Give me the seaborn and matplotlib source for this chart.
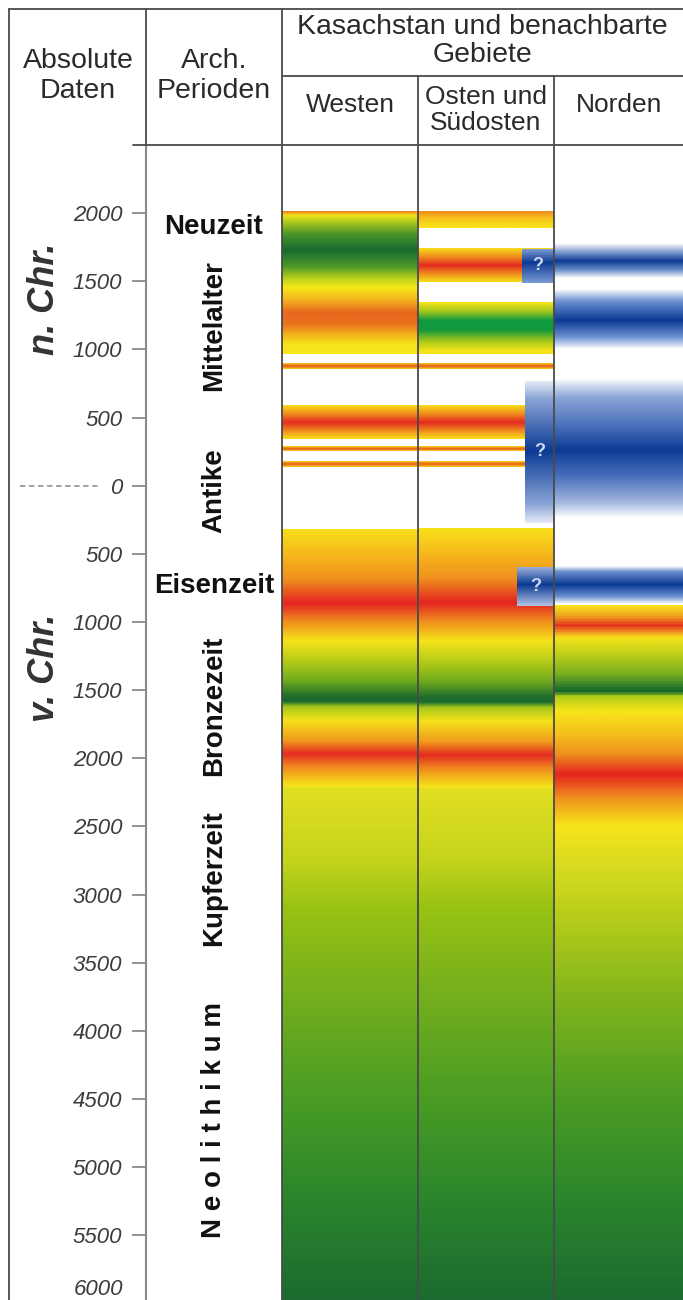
import numpy as np
import matplotlib
matplotlib.use("Agg")
import matplotlib.pyplot as plt
from matplotlib.colors import LinearSegmentedColormap
import seaborn as sns

# colour stops (year, colour) for each band, top to bottom; negative = v. Chr.
westen_bands = [
    [(2015, "#ee7a22"), (2002, "#f4aa1c"), (1985, "#f0e41a"), (1930, "#a6c41c"), (1850, "#4a962a"),
     (1730, "#176a2e"), (1610, "#4c982a"), (1520, "#bcd21a"), (1455, "#f8e71a"), (1370, "#f5b61e"),
     (1270, "#e8681e"), (1190, "#e9701e"), (1100, "#f4b81c"), (1040, "#f7e31a"), (968, "#f6e61b")],
    [(895, "#f7d41a"), (877, "#e8541e"), (858, "#f7d41a")],
    [(588, "#f8dc18"), (530, "#f0921e"), (464, "#e42a20"), (400, "#f0921e"), (345, "#f8e018")],
    [(293, "#f8d81a"), (275, "#e85a1e"), (257, "#f8d81a")],
    [(183, "#f8d81a"), (162, "#e85a1e"), (140, "#f8d81a")],
    [(-315, "#f8e01a"), (-500, "#f6b81c"), (-680, "#f0901e"), (-858, "#e42420"), (-990, "#f08c1e"),
     (-1136, "#f6e21a"), (-1283, "#b6cc18"), (-1430, "#6eaa1e"), (-1540, "#226e2c"), (-1580, "#176a2e"),
     (-1620, "#a8c81a"), (-1723, "#f5e21a"), (-1870, "#f29a1e"), (-1965, "#e42a20"), (-2067, "#f08c1e"),
     (-2185, "#f6d81a"), (-2215, "#f6e71a")],
    [(-2215, "#e2df22"), (-2750, "#c4d41c"), (-3100, "#98c214"), (-3775, "#72ae1e"), (-4500, "#4a9c24"),
     (-5240, "#2a862c"), (-6000, "#1c6a30")],
]

osten_bands = [
    [(2015, "#f08a1e"), (1960, "#f6c41a"), (1893, "#f8e61a")],
    [(1740, "#f8de1a"), (1680, "#f0901e"), (1613, "#e42a20"), (1550, "#f0901e"), (1492, "#f8de1a")],
    [(1344, "#f8e41a"), (1280, "#a8c81a"), (1210, "#0e9a42"), (1140, "#169a3c"), (1060, "#a8c81a"),
     (990, "#f6e41a"), (968, "#f6e41a")],
    [(895, "#f7d41a"), (877, "#e8541e"), (858, "#f7d41a")],
    [(588, "#f8dc18"), (530, "#f0921e"), (464, "#e42a20"), (400, "#f0921e"), (345, "#f8e018")],
    [(293, "#f8d81a"), (275, "#e85a1e"), (257, "#f8d81a")],
    [(183, "#f8d81a"), (162, "#e85a1e"), (140, "#f8d81a")],
    [(-315, "#f8e01a"), (-500, "#f6b81c"), (-680, "#f0901e"), (-860, "#e42420"), (-995, "#f08c1e"),
     (-1140, "#f6e21a"), (-1290, "#b6cc18"), (-1440, "#6eaa1e"), (-1550, "#226e2c"), (-1590, "#176a2e"),
     (-1630, "#a8c81a"), (-1730, "#f5e21a"), (-1880, "#f29a1e"), (-1980, "#e42a20"), (-2080, "#f08c1e"),
     (-2195, "#f6d81a"), (-2225, "#f6e71a")],
    [(-2225, "#e2df22"), (-2750, "#c4d41c"), (-3100, "#98c214"), (-3775, "#72ae1e"), (-4500, "#4a9c24"),
     (-5240, "#2a862c"), (-6000, "#1c6a30")],
]

norden_bands = [
    [(1780, "#ffffff"), (1720, "#8aa4d6"), (1650, "#0c3a94"), (1580, "#7094cc"), (1525, "#ffffff")],
    [(1440, "#ffffff"), (1350, "#6a8ed0"), (1210, "#0c3a94"), (1090, "#6a8ed0"), (1000, "#ffffff")],
    [(780, "#ffffff"), (640, "#8aa4d6"), (430, "#4a70bc"), (257, "#0c3a94"), (60, "#4a70bc"),
     (-130, "#a4b8e0"), (-240, "#ffffff")],
    [(-590, "#ffffff"), (-630, "#6a8ed0"), (-725, "#0c3a94"), (-810, "#6a8ed0"), (-865, "#ffffff")],
    [(-880, "#f8e01a"), (-960, "#f0961e"), (-1020, "#e4341e"), (-1070, "#f0961e"), (-1110, "#f6e41a"),
     (-1210, "#c8d41a"), (-1380, "#78ae1e"), (-1490, "#1c6e2c"), (-1510, "#16692c"), (-1540, "#b0ca1a"),
     (-1650, "#f6e61a"), (-1818, "#f6c01c"), (-1965, "#f0901e"), (-2115, "#e42420"), (-2290, "#f0901e"),
     (-2490, "#f8e41a"), (-2750, "#dcdc22"), (-3100, "#bcd01a"), (-3775, "#80b41c"), (-4500, "#4c9c24"),
     (-5240, "#2a862c"), (-6000, "#1c6a30")],
]

# uncertain ("?") boxes at the right of the Osten column
unsicher_bands = [
    [(1738, "#7c9cd4"), (1640, "#0c3a94"), (1490, "#7c9cd4")],
    [(770, "#e4eaf6"), (640, "#8aa4d6"), (257, "#0c3a94"), (-130, "#8aa4d6"), (-270, "#e4eaf6")],
    [(-601, "#9ab0dc"), (-725, "#0c3a94"), (-880, "#b4c4e6")],
]

ticks = list(range(2000, -5501, -500))
period_names = ["Neuzeit", "Mittelalter", "Antike", "Eisenzeit", "Bronzezeit", "Kupferzeit",
                "N e o l i t h i k u m"]
period_years = [1900, 1173, -37, -733, -1613, -2882, -4655]
period_rot = [0, 90, 90, 0, 90, 90, 90]

# layout (pixels)
W, H = 683, 1300
col_x = {"west": (282, 418), "ost": (418, 554), "nord": (554, 683)}
box_left = [522, 525, 517]

sns.set_theme(style="white")
plt.rcParams["font.family"] = ["Liberation Sans", "DejaVu Sans"]

fig = plt.figure(figsize=(W / 100, H / 100), dpi=100)
ax = fig.add_axes([0, 0, 1, (H - 145) / H])


def draw_band(stops, x0, x1):
    top, bottom = stops[0][0], stops[-1][0]
    pos = [(top - y) / (top - bottom) for y, _ in stops]
    cmap = LinearSegmentedColormap.from_list("band", list(zip(pos, [c for _, c in stops])))
    ramp = np.linspace(0, 1, 512).reshape(-1, 1)
    ax.imshow(ramp, cmap=cmap, extent=[x0, x1, bottom, top], aspect="auto",
              interpolation="bilinear", origin="upper", zorder=1)


for b in westen_bands:
    draw_band(b, *col_x["west"])
for b in osten_bands:
    draw_band(b, *col_x["ost"])
for b in norden_bands:
    draw_band(b, *col_x["nord"])
for b, xl in zip(unsicher_bands, box_left):
    draw_band(b, xl, col_x["ost"][1])
    ax.text((xl + col_x["ost"][1]) / 2, (b[0][0] + b[-1][0]) / 2, "?", ha="center", va="center",
            fontsize=13, fontweight="bold", color="#cfd9f0", zorder=3)

ax.set_xlim(0, W)
ax.set_ylim(-5975, 2500)

# y axis at x=146
for s in ["top", "right", "bottom"]:
    ax.spines[s].set_visible(False)
ax.spines["left"].set_position(("data", 146))
ax.spines["left"].set_color("#8a8a8a")
ax.spines["left"].set_linewidth(1.5)
ax.set_xticks([])
ax.set_yticks(ticks)
ax.set_yticklabels([str(abs(t)) for t in ticks])
ax.tick_params(axis="y", direction="out", length=10, width=1.3, color="#8a8a8a",
               labelsize=16, labelcolor="#3c3c3c", pad=7, left=True)
for lbl in ax.get_yticklabels():
    lbl.set_fontstyle("italic")
ax.text(123, -5975, "6000", ha="right", va="bottom", fontsize=16, style="italic", color="#3c3c3c")
ax.plot([20, 100], [0, 0], ls=(0, (3, 2)), color="#9a9a9a", lw=1.3, clip_on=False)

ax.text(44, 1371, "n. Chr.", rotation=90, ha="center", va="center", fontsize=26,
        fontweight="bold", style="italic", color="#333333")
ax.text(44, -1334, "v. Chr.", rotation=90, ha="center", va="center", fontsize=26,
        fontweight="bold", style="italic", color="#333333")

for name, yr, rot in zip(period_names, period_years, period_rot):
    ax.text(214, yr, name, rotation=rot, ha="center", va="center", fontsize=20,
            fontweight="bold", color="#111111")

# frame and header in pixel coordinates
ov = fig.add_axes([0, 0, 1, 1])
ov.set_xlim(0, W)
ov.set_ylim(H, 0)
ov.axis("off")
ov.patch.set_visible(False)
lc, lw = "#4a4a4a", 1.3
ov.plot([9, W], [9, 9], color=lc, lw=lw)
ov.plot([9, 9], [9, H], color=lc, lw=lw)
ov.plot([146, 146], [9, 145], color=lc, lw=lw)
ov.plot([282, 282], [9, H], color=lc, lw=lw)
ov.plot([418, 418], [76, H], color=lc, lw=lw)
ov.plot([554, 554], [76, H], color=lc, lw=lw)
ov.plot([282, W], [76, 76], color=lc, lw=lw)
ov.plot([133, W], [145, 145], color=lc, lw=lw)

hc = "#2a2a2a"
ov.text(78, 76, "Absolute\nDaten", ha="center", va="center", fontsize=20.5, color=hc, linespacing=1.15)
ov.text(214, 76, "Arch.\nPerioden", ha="center", va="center", fontsize=20.5, color=hc, linespacing=1.15)
ov.text(482, 41, "Kasachstan und benachbarte\nGebiete", ha="center", va="center", fontsize=20.5,
        color=hc, linespacing=1.15)
ov.text(350, 105, "Westen", ha="center", va="center", fontsize=19, color=hc)
ov.text(486, 110, "Osten und\nSüdosten", ha="center", va="center", fontsize=19, color=hc, linespacing=1.1)
ov.text(619, 105, "Norden", ha="center", va="center", fontsize=19, color=hc)

fig.savefig("out.png", dpi=100)
